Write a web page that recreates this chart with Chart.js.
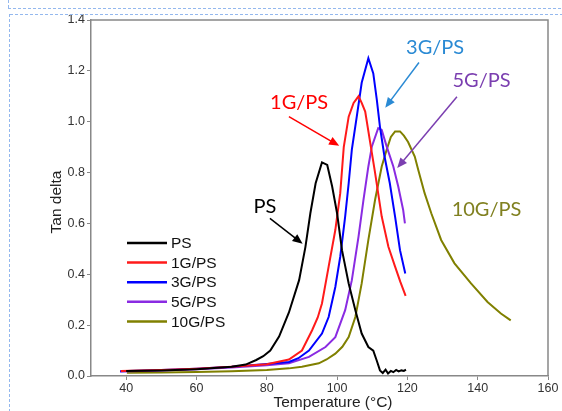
<!DOCTYPE html>
<html lang="en">
<head>
    <meta charset="UTF-8">
    <title>Tan delta</title>
    <script src="https://cdn.jsdelivr.net/npm/chart.js"></script>
    <style>
        body { margin: 0; background: #fff; }
        canvas { display: block; }
    </style>
</head>
<body>
    <canvas id="tanChart" width="562" height="411"></canvas>
    <script>
        // Datos (temperatura en °C, tan delta)
        const psT   = [40, 50, 60, 65, 70, 74, 77, 79, 81, 83.5, 86.3, 89.2, 91, 92.4, 93.9, 95.7, 97.2, 98.6, 100, 101.4, 103.3, 105.2, 107, 108.9, 110.3, 111.3, 112.2, 113, 113.8, 114.5, 115.3, 116, 116.8, 117.5, 118.3, 119, 119.6];
        const psVal = [0.02, 0.022, 0.027, 0.031, 0.036, 0.045, 0.063, 0.078, 0.1, 0.155, 0.25, 0.377, 0.508, 0.64, 0.758, 0.84, 0.83, 0.745, 0.64, 0.495, 0.364, 0.259, 0.167, 0.114, 0.1, 0.06, 0.022, 0.012, 0.025, 0.01, 0.02, 0.015, 0.024, 0.018, 0.022, 0.02, 0.025];

        const g1T   = [38.5, 50, 60, 70, 80, 86.3, 90, 92.9, 94.5, 95.7, 97.6, 99.5, 100.9, 101.9, 103.3, 104.7, 106.1, 107, 108, 109.4, 110.8, 112.7, 114.6, 116.5, 118, 119.5];
        const g1Val = [0.02, 0.024, 0.029, 0.036, 0.046, 0.065, 0.1, 0.18, 0.23, 0.285, 0.43, 0.574, 0.719, 0.9, 1.02, 1.074, 1.1, 1.074, 1.04, 0.92, 0.8, 0.627, 0.508, 0.43, 0.37, 0.315];

        const g3T   = [38.3, 50, 60, 70, 80, 86.3, 89, 92, 95.7, 97.6, 99.5, 100.9, 102.3, 103.3, 104.2, 105.6, 107, 108.9, 110.3, 111.3, 112.2, 113.4, 115, 116.5, 117.9, 119.4];
        const g3Val = [0.019, 0.024, 0.029, 0.036, 0.047, 0.055, 0.07, 0.1, 0.167, 0.232, 0.35, 0.469, 0.627, 0.758, 0.89, 1.02, 1.153, 1.25, 1.19, 1.087, 0.98, 0.87, 0.758, 0.627, 0.495, 0.403];

        const g5T   = [38.3, 50, 60, 70, 80, 86.3, 92, 96.7, 99.5, 102.3, 104.2, 106.1, 107.5, 108.9, 109.9, 111.7, 112.7, 114.1, 116, 117.4, 118.8, 119.3];
        const g5Val = [0.018, 0.022, 0.027, 0.033, 0.042, 0.05, 0.075, 0.114, 0.153, 0.259, 0.377, 0.548, 0.692, 0.824, 0.903, 0.975, 0.968, 0.903, 0.824, 0.745, 0.653, 0.6];

        const g10T   = [40.2, 50, 60, 70, 80, 86.3, 90, 94.8, 97, 99.5, 101.5, 103.3, 105.2, 107, 108.9, 110.8, 112.7, 114.1, 115.3, 116.5, 117.9, 119, 120.2, 122.1, 123.1, 124.9, 126.8, 129.6, 133.4, 138.1, 142.8, 146.6, 149.4];
        const g10Val = [0.013, 0.014, 0.016, 0.019, 0.024, 0.03, 0.036, 0.05, 0.065, 0.088, 0.115, 0.153, 0.232, 0.364, 0.535, 0.692, 0.824, 0.89, 0.94, 0.962, 0.962, 0.945, 0.92, 0.863, 0.81, 0.719, 0.64, 0.535, 0.443, 0.364, 0.291, 0.246, 0.219];

        const seriesNames = ['PS', '1G/PS', '3G/PS', '5G/PS', '10G/PS'];
        const seriesColors = ['#000000', '#ff1a1a', '#0000ff', '#8a2be2', '#808000'];
        const xTicks = [40, 60, 80, 100, 120, 140, 160];
        const yTicks = [0, 0.2, 0.4, 0.6, 0.8, 1.0, 1.2, 1.4];

        // Etiquetas con flecha (en unidades de datos)
        const notes = [
            { text: 'PS',     color: '#000000', at: [79.5, 0.665],  from: [80.9, 0.62],  to: [90.2, 0.52] },
            { text: '1G/PS',  color: '#ff0000', at: [89.2, 1.075],  from: [86.3, 1.02],  to: [100.6, 0.905] },
            { text: '3G/PS',  color: '#2a8ad4', at: [127.9, 1.292], from: [123.3, 1.233], to: [113.7, 1.055] },
            { text: '5G/PS',  color: '#7b3fb0', at: [141.1, 1.162], from: [134.1, 1.098], to: [117.1, 0.818] },
            { text: '10G/PS', color: '#808020', at: [142.5, 0.653] }
        ];

        function toPoints(xs, ys) {
            return xs.map((t, i) => ({ x: t, y: ys[i] }));
        }

        const allData = [[psT, psVal], [g1T, g1Val], [g3T, g3Val], [g5T, g5Val], [g10T, g10Val]];

        const datasets = allData.map((d, i) => ({
            label: seriesNames[i],
            data: toPoints(d[0], d[1]),
            borderColor: seriesColors[i],
            borderWidth: 2,
            pointRadius: 0,
            tension: 0,
            fill: false
        }));

        const extras = {
            id: 'extras',
            afterDraw(chart) {
                const ctx = chart.ctx;
                const a = chart.chartArea;
                const sx = chart.scales.x, sy = chart.scales.y;
                ctx.save();

                // marco superior y derecho
                ctx.strokeStyle = '#888';
                ctx.lineWidth = 1.5;
                ctx.beginPath();
                ctx.moveTo(a.left, a.top);
                ctx.lineTo(a.right, a.top);
                ctx.lineTo(a.right, a.bottom);
                ctx.stroke();

                // titulos de ejes
                ctx.fillStyle = '#222';
                ctx.font = '15.5px "Liberation Sans", Arial, sans-serif';
                ctx.textAlign = 'center';
                ctx.textBaseline = 'middle';
                ctx.fillText('Temperature (°C)', 333, 403);
                ctx.save();
                ctx.translate(57, 202);
                ctx.rotate(-Math.PI / 2);
                ctx.fillText('Tan delta', 0, 0);
                ctx.restore();

                // leyenda
                ctx.font = '15.5px "Liberation Sans", Arial, sans-serif';
                ctx.textAlign = 'left';
                seriesNames.forEach((name, i) => {
                    const y = 243 + i * 19.6;
                    ctx.strokeStyle = seriesColors[i];
                    ctx.lineWidth = 2.5;
                    ctx.beginPath();
                    ctx.moveTo(127, y);
                    ctx.lineTo(167, y);
                    ctx.stroke();
                    ctx.fillStyle = '#111';
                    ctx.fillText(name, 171, y + 1);
                });

                // anotaciones
                ctx.font = '20px Lato, "Open Sans", sans-serif';
                ctx.textAlign = 'center';
                notes.forEach(n => {
                    ctx.fillStyle = n.color;
                    ctx.fillText(n.text, sx.getPixelForValue(n.at[0]), sy.getPixelForValue(n.at[1]));
                    if (!n.from) return;
                    const x1 = sx.getPixelForValue(n.from[0]), y1 = sy.getPixelForValue(n.from[1]);
                    const x2 = sx.getPixelForValue(n.to[0]), y2 = sy.getPixelForValue(n.to[1]);
                    const ang = Math.atan2(y2 - y1, x2 - x1);
                    ctx.strokeStyle = n.color;
                    ctx.lineWidth = 1.5;
                    ctx.beginPath();
                    ctx.moveTo(x1, y1);
                    ctx.lineTo(x2 - 6 * Math.cos(ang), y2 - 6 * Math.sin(ang));
                    ctx.stroke();
                    ctx.beginPath();
                    ctx.moveTo(x2, y2);
                    ctx.lineTo(x2 - 11 * Math.cos(ang - 0.4), y2 - 11 * Math.sin(ang - 0.4));
                    ctx.lineTo(x2 - 11 * Math.cos(ang + 0.4), y2 - 11 * Math.sin(ang + 0.4));
                    ctx.closePath();
                    ctx.fill();
                });

                // bordes punteados de la diapositiva
                ctx.strokeStyle = '#94b8ee';
                ctx.lineWidth = 1;
                ctx.setLineDash([3, 2]);
                ctx.beginPath();
                ctx.moveTo(8, 8.5); ctx.lineTo(562, 8.5);
                ctx.moveTo(10, 14.5); ctx.lineTo(562, 14.5);
                ctx.moveTo(8.5, 0); ctx.lineTo(8.5, 9);
                ctx.moveTo(9.5, 14); ctx.lineTo(9.5, 411);
                ctx.stroke();
                ctx.restore();
            }
        };

        const tickFont = { family: '"Liberation Sans", Arial, sans-serif', size: 12.5 };

        const config = {
            type: 'line',
            data: { datasets: datasets },
            options: {
                responsive: false,
                animation: false,
                layout: { padding: { top: 20, right: 14, left: 0, bottom: 0 } },
                plugins: {
                    legend: { display: false },
                    tooltip: { enabled: false }
                },
                scales: {
                    x: {
                        type: 'linear',
                        min: 30,
                        max: 160,
                        afterBuildTicks: s => { s.ticks = xTicks.map(v => ({ value: v })); },
                        afterFit: s => { s.height = 35; },
                        ticks: { color: '#333', font: tickFont, padding: 1, maxRotation: 0 },
                        grid: { drawOnChartArea: false, tickLength: 4, color: '#888' },
                        border: { color: '#888', width: 1.5 }
                    },
                    y: {
                        min: 0,
                        max: 1.4,
                        afterBuildTicks: s => { s.ticks = yTicks.map(v => ({ value: v })); },
                        afterFit: s => { s.width = 91; },
                        ticks: { color: '#333', font: tickFont, padding: 2, callback: v => v.toFixed(1) },
                        grid: { drawOnChartArea: false, tickLength: 4, color: '#888' },
                        border: { color: '#888', width: 1.5 }
                    }
                }
            },
            plugins: [extras]
        };

        const ctx = document.getElementById('tanChart').getContext('2d');
        new Chart(ctx, config);
    </script>
</body>
</html>
